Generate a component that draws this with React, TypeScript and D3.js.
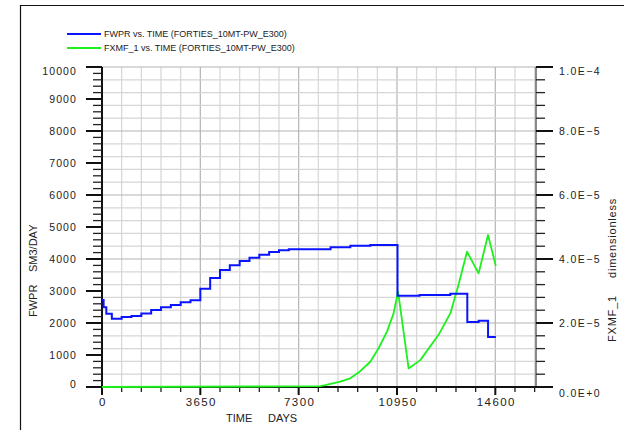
import React from "react";
import * as d3 from "d3";

// FWPR (SM3/DAY) step series
const fwprDays = [0, 60, 160, 365, 730, 1095, 1460, 1825, 2190, 2555, 2920, 3285, 3650, 4015, 4380, 4745, 5110, 5475, 5840, 6205, 6570, 6935, 8485, 9218, 9960, 10970, 11790, 12929, 13560, 13980, 14330, 14620];
const fwprValues = [2719, 2490, 2290, 2130, 2190, 2220, 2300, 2406, 2490, 2562, 2646, 2709, 3072, 3406, 3656, 3802, 3937, 4040, 4134, 4219, 4271, 4302, 4365, 4416, 4440, 2853, 2875, 2916, 2031, 2072, 1562, 1562];

// FXMF_1 (dimensionless)
const fxmfDays = [0, 5505, 8103, 8289, 8846, 9217, 9525, 9959, 10267, 10579, 10824, 10990, 11381, 11815, 12494, 12929, 13215, 13549, 13980, 14328, 14620];
const fxmfValues = [0, 0.15e-6, 0.3e-6, 0.6e-6, 1.7e-6, 2.7e-6, 4.5e-6, 7.9e-6, 12.1e-6, 17.3e-6, 23.0e-6, 29.8e-6, 5.8e-6, 8.4e-6, 16.3e-6, 23.0e-6, 31.3e-6, 42.3e-6, 35.5e-6, 47.5e-6, 37.8e-6];

const xTickValues = [0, 3650, 7300, 10950, 14600];
const leftTickValues = [0, 1000, 2000, 3000, 4000, 5000, 6000, 7000, 8000, 9000, 10000];
const rightTickValues = [0, 2e-5, 4e-5, 6e-5, 8e-5, 1e-4];
const rightTickLabels = ["0.0E+0", "2.0E\u22125", "4.0E\u22125", "6.0E\u22125", "8.0E\u22125", "1.0E\u22124"];

const legendLabels = ["FWPR vs. TIME (FORTIES_10MT-PW_E300)", "FXMF_1 vs. TIME (FORTIES_10MT-PW_E300)"];
const seriesColors = ["#0a14ff", "#1ef01e"];

const X0 = 102, X1 = 536, Y0 = 387, Y1 = 67;
const FONT = "'Liberation Sans', Arial, sans-serif";

export default function App() {
  const x = d3.scaleLinear().domain([0, 16110]).range([X0, X1]);
  const yL = d3.scaleLinear().domain([0, 10000]).range([Y0, Y1]);
  const yR = d3.scaleLinear().domain([0, 1e-4]).range([Y0, Y1]);

  const fwprPath = d3.line<number>().x((_, i) => x(fwprDays[i])).y((d) => yL(d)).curve(d3.curveStepAfter)(fwprValues) || "";
  const fxmfPath = d3.line<number>().x((_, i) => x(fxmfDays[i])).y((d) => yR(d))(fxmfValues) || "";

  const vGrid = d3.range(730, 16110, 730);
  const hGrid = d3.range(400, 10001, 400);
  const leftMinor = d3.range(0, 10001, 200).filter((v) => v % 1000 !== 0);
  const rightMinor = d3.range(0, 26).map((i) => i * 4e-6).filter((_, i) => i % 5 !== 0);
  const xMinor = d3.range(0, 16110, 730).filter((v) => v % 3650 !== 0);

  return (
    <svg width={624} height={430} style={{ position: "absolute", left: 0, top: 0, background: "#fff" }} fontFamily={FONT}>
      <rect x={0} y={0} width={624} height={430} fill="#fff" />
      <path d="M20.5,440 V5.5 H640" fill="none" stroke="#111" strokeWidth={1.2} />

      {/* legend */}
      {legendLabels.map((t, i) => (
        <g key={t}>
          <line x1={67} x2={101} y1={34 + i * 14} y2={34 + i * 14} stroke={seriesColors[i]} strokeWidth={2} />
          <text x={104} y={34 + i * 14} dy="0.35em" fontSize={9} fill="#222">{t}</text>
        </g>
      ))}

      {/* grid */}
      {vGrid.map((v) => (
        <line key={"vg" + v} x1={x(v)} x2={x(v)} y1={Y1} y2={Y0} stroke={v % 3650 === 0 ? "#b4b4b4" : "#d6d6d6"} strokeWidth={1.2} />
      ))}
      {hGrid.map((v) => (
        <line key={"hg" + v} x1={X0} x2={X1} y1={yL(v)} y2={yL(v)} stroke={v % 2000 === 0 ? "#b4b4b4" : "#d6d6d6"} strokeWidth={1.2} />
      ))}

      {/* right axis */}
      <line x1={X1} x2={X1} y1={Y1} y2={Y0} stroke="#666" strokeWidth={1.5} />
      {rightMinor.map((v) => (
        <line key={"rm" + v} x1={X1} x2={X1 + 9} y1={yR(v)} y2={yR(v)} stroke="#222" strokeWidth={1.3} />
      ))}
      {rightTickValues.map((v, i) => (
        <g key={"rt" + v}>
          <line x1={X1} x2={X1 + 17} y1={yR(v)} y2={yR(v)} stroke="#111" strokeWidth={2} />
          <text x={559} y={yR(v) + (i === 5 ? 4.5 : i === 0 ? 6 : 0)} dy="0.35em" fontSize={10.5} letterSpacing={1.4} fill="#222">{rightTickLabels[i]}</text>
        </g>
      ))}

      {/* left axis */}
      <line x1={X0} x2={X0} y1={Y1} y2={Y0 + 8} stroke="#111" strokeWidth={2} />
      {leftMinor.map((v) => (
        <line key={"lm" + v} x1={X0 - 9} x2={X0} y1={yL(v)} y2={yL(v)} stroke="#222" strokeWidth={1.3} />
      ))}
      {leftTickValues.map((v) => (
        <g key={"lt" + v}>
          <line x1={X0 - 16} x2={X0} y1={yL(v)} y2={yL(v)} stroke="#111" strokeWidth={2} />
          <text x={77} y={yL(v) + (v === 10000 ? 4 : v === 0 ? -3 : 0)} dy="0.35em" textAnchor="end" fontSize={10.5} letterSpacing={1.1} fill="#222">{v}</text>
        </g>
      ))}

      {/* bottom axis */}
      <line x1={X0} x2={X1} y1={Y0} y2={Y0} stroke="#111" strokeWidth={2} />
      {xMinor.map((v) => (
        <line key={"xm" + v} x1={x(v)} x2={x(v)} y1={Y0} y2={Y0 + 5} stroke="#222" strokeWidth={1.3} />
      ))}
      {xTickValues.map((v) => (
        <g key={"xt" + v}>
          <line x1={x(v)} x2={x(v)} y1={Y0} y2={Y0 + 8} stroke="#111" strokeWidth={2} />
          <text x={x(v) + 1} y={402} dy="0.35em" textAnchor="middle" fontSize={11.5} letterSpacing={1.4} fill="#222">{v}</text>
        </g>
      ))}

      {/* axis titles */}
      <text x={226} y={418} dy="0.35em" fontSize={11} fill="#222">TIME</text>
      <text x={268} y={418} dy="0.35em" fontSize={11} fill="#222">DAYS</text>
      <text transform="translate(36.5,317) rotate(-90)" fontSize={11} fill="#222">FWPR</text>
      <text transform="translate(36.5,272) rotate(-90)" fontSize={11} fill="#222">SM3/DAY</text>
      <text transform="translate(615.5,342) rotate(-90)" fontSize={11} letterSpacing={0.8} fill="#222">FXMF_1</text>
      <text transform="translate(615.5,278) rotate(-90)" fontSize={11} letterSpacing={0.8} fill="#222">dimensionless</text>

      {/* series */}
      <path d={fxmfPath} fill="none" stroke={seriesColors[1]} strokeWidth={1.8} strokeLinejoin="round" />
      <path d={fwprPath} fill="none" stroke={seriesColors[0]} strokeWidth={2} />
    </svg>
  );
}
